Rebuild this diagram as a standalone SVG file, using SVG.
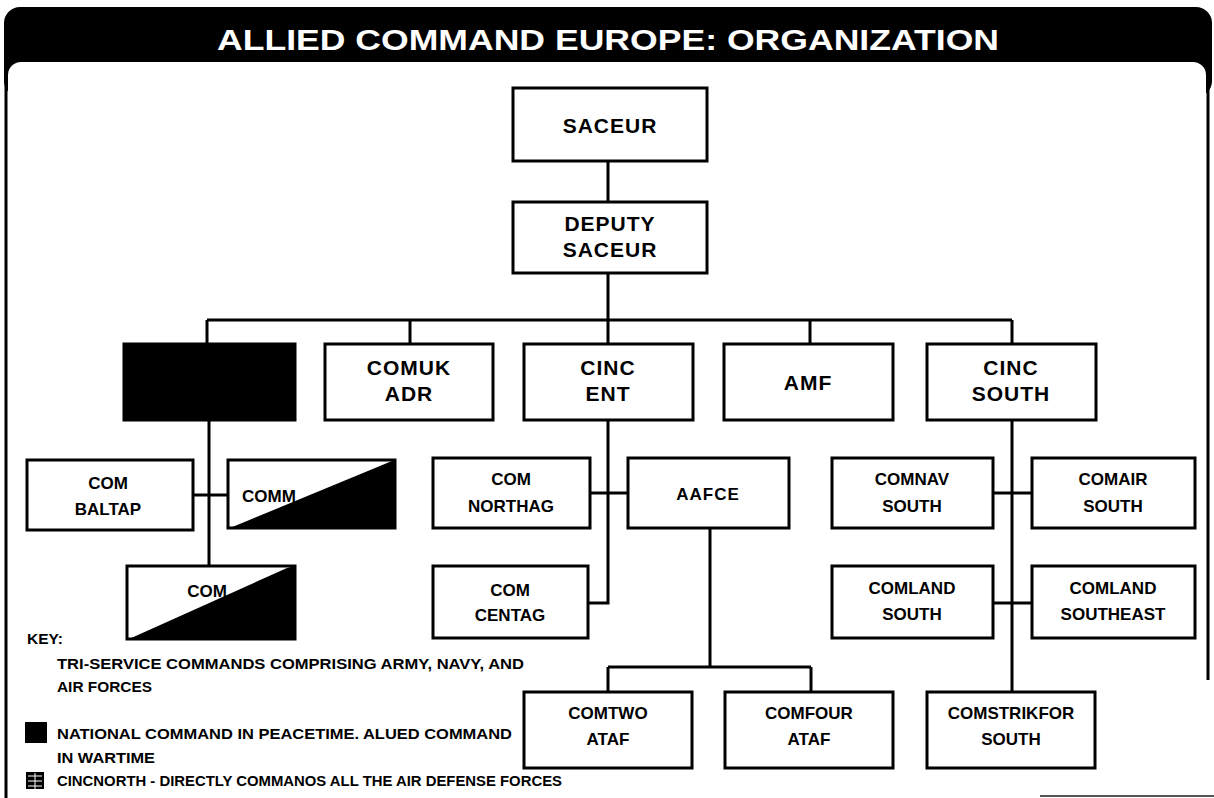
<svg xmlns="http://www.w3.org/2000/svg" width="1214" height="798" viewBox="0 0 1214 798">
<style>
.box{fill:#fff;stroke:#000;stroke-width:3}
.blk{fill:#000}
.t1{font-family:"Liberation Sans",Arial,sans-serif;font-weight:bold;font-size:21px;fill:#000;text-anchor:middle;letter-spacing:1px}
.t2{font-family:"Liberation Sans",Arial,sans-serif;font-weight:bold;font-size:17px;fill:#000;text-anchor:middle}
.key{font-family:"Liberation Sans",Arial,sans-serif;font-size:15px;font-weight:bold;fill:#000}
.ln{fill:none;stroke:#000;stroke-width:3}
</style>
<rect width="1214" height="798" fill="#fff"/>
<g id="frame">
<rect x="4" y="7" width="1208" height="90" rx="16" class="blk"/>
<rect x="8" y="62" width="1198" height="800" rx="13" fill="#fff"/>
<line x1="6" y1="70" x2="6" y2="798" stroke="#000" stroke-width="3"/>
<line x1="1208" y1="70" x2="1208" y2="680" stroke="#000" stroke-width="3"/>
<line x1="1040" y1="796" x2="1214" y2="796" stroke="#555" stroke-width="2"/>
<text x="608" y="50" font-family="Liberation Sans,Arial,sans-serif" font-weight="bold" font-size="29" fill="#fff" text-anchor="middle" textLength="782" lengthAdjust="spacingAndGlyphs">ALLIED COMMAND EUROPE: ORGANIZATION</text>
</g>
<g id="connectors">
<path class="ln" d="M608 161V202M608 273V320M207 320H1012M207 320V344M410 320V344M608 320V344M810 320V344M1012 320V344"/>
<path class="ln" d="M209 420V566M193 495H228"/>
<path class="ln" d="M608 420V603H588M590 493H628M710 528V667M608 667H811M608 667V692M811 667V692"/>
<path class="ln" d="M1012 420V692M993 493H1032M993 603H1032"/>
</g>
<g id="saceur"><rect class="box" x="513" y="88" width="194" height="73"/><text class="t1" x="610" y="133" font-size="23">SACEUR</text></g>
<g id="deputy-saceur"><rect class="box" x="513" y="202" width="194" height="71"/><text class="t1" x="610" y="231">DEPUTY</text><text class="t1" x="610" y="257">SACEUR</text></g>
<g id="national-command"><rect x="124" y="344" width="171" height="76" fill="#000" stroke="#000" stroke-width="3"/></g>
<g id="comuk-adr"><rect class="box" x="325" y="344" width="168" height="76"/><text class="t1" x="409" y="375">COMUK</text><text class="t1" x="409" y="401">ADR</text></g>
<g id="cinc-ent"><rect class="box" x="524" y="344" width="169" height="76"/><text class="t1" x="608" y="375">CINC</text><text class="t1" x="608" y="401">ENT</text></g>
<g id="amf"><rect class="box" x="724" y="344" width="169" height="76"/><text class="t1" x="808" y="390">AMF</text></g>
<g id="cinc-south"><rect class="box" x="927" y="344" width="169" height="76"/><text class="t1" x="1011" y="375">CINC</text><text class="t1" x="1011" y="401">SOUTH</text></g>
<g id="com-baltap"><rect class="box" x="27" y="460" width="166" height="70"/><text class="t2" x="108" y="489">COM</text><text class="t2" x="108" y="515">BALTAP</text></g>
<g id="comm"><rect class="box" x="228" y="460" width="167" height="68"/><text class="t2" x="242" y="502" style="text-anchor:start" font-size="19">COMM</text><polygon class="blk" points="230,528 392,461 395,461 395,528"/></g>
<g id="com-lower"><rect class="box" x="127" y="566" width="168" height="73"/><text class="t2" x="207" y="597" font-size="19">COM</text><polygon class="blk" points="129,639 287,568 295,566 295,639"/></g>
<g id="com-northag"><rect class="box" x="433" y="458" width="157" height="70"/><text class="t2" x="511" y="485">COM</text><text class="t2" x="511" y="512">NORTHAG</text></g>
<g id="aafce"><rect class="box" x="628" y="458" width="161" height="70"/><text class="t2" x="708" y="500" letter-spacing="1">AAFCE</text></g>
<g id="com-centag"><rect class="box" x="433" y="566" width="155" height="72"/><text class="t2" x="510" y="596">COM</text><text class="t2" x="510" y="621">CENTAG</text></g>
<g id="comtwo-ataf"><rect class="box" x="524" y="692" width="168" height="76"/><text class="t2" x="608" y="719">COMTWO</text><text class="t2" x="608" y="745">ATAF</text></g>
<g id="comfour-ataf"><rect class="box" x="725" y="692" width="168" height="76"/><text class="t2" x="809" y="719">COMFOUR</text><text class="t2" x="809" y="745">ATAF</text></g>
<g id="comnav-south"><rect class="box" x="832" y="458" width="161" height="70"/><text class="t2" x="912" y="485">COMNAV</text><text class="t2" x="912" y="512">SOUTH</text></g>
<g id="comair-south"><rect class="box" x="1032" y="458" width="163" height="70"/><text class="t2" x="1113" y="485">COMAIR</text><text class="t2" x="1113" y="512">SOUTH</text></g>
<g id="comland-south"><rect class="box" x="832" y="566" width="161" height="72"/><text class="t2" x="912" y="594">COMLAND</text><text class="t2" x="912" y="620">SOUTH</text></g>
<g id="comland-southeast"><rect class="box" x="1032" y="566" width="163" height="72"/><text class="t2" x="1113" y="594">COMLAND</text><text class="t2" x="1113" y="620">SOUTHEAST</text></g>
<g id="comstrikfor-south"><rect class="box" x="927" y="692" width="168" height="76"/><text class="t2" x="1011" y="719">COMSTRIKFOR</text><text class="t2" x="1011" y="745">SOUTH</text></g>
<g id="key">
<text class="key" x="27" y="644" textLength="36" lengthAdjust="spacingAndGlyphs">KEY:</text>
<text class="key" x="57" y="669" textLength="467" lengthAdjust="spacingAndGlyphs">TRI-SERVICE COMMANDS COMPRISING ARMY, NAVY, AND</text>
<text class="key" x="57" y="692" textLength="95" lengthAdjust="spacingAndGlyphs">AIR FORCES</text>
<rect x="25" y="722" width="22" height="21" fill="#000"/>
<text class="key" x="57" y="739" textLength="455" lengthAdjust="spacingAndGlyphs">NATIONAL COMMAND IN PEACETIME. ALUED COMMAND</text>
<text class="key" x="57" y="763" textLength="98" lengthAdjust="spacingAndGlyphs">IN WARTIME</text>
<rect x="26" y="772" width="18" height="17" fill="#000"/>
<path d="M28 776H42M28 781H42M28 786H42M35 773V789" stroke="#fff" stroke-width="1"/>
<text class="key" x="57" y="786" textLength="505" lengthAdjust="spacingAndGlyphs">CINCNORTH - DIRECTLY COMMANOS ALL THE AIR DEFENSE FORCES</text>
</g>
</svg>
